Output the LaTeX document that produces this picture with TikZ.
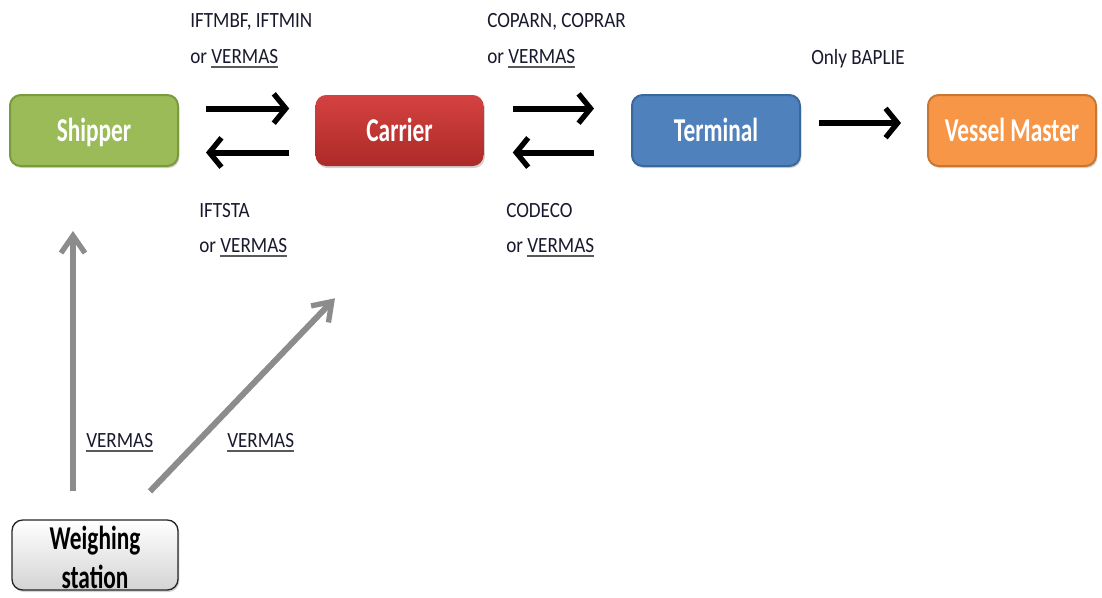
\documentclass[tikz,border=0pt]{standalone}
\usepackage{fontspec}
\setmainfont{Carlito}
\newfontfamily\labfont[FakeStretch=0.88]{Carlito}
\newfontfamily\boxfont[FakeStretch=0.7]{Carlito}
\usetikzlibrary{arrows.meta,shadows,calc}

\definecolor{txt}{RGB}{25,25,45}
\definecolor{shipfill}{RGB}{155,187,89}
\definecolor{shipline}{RGB}{122,154,62}
\definecolor{cartop}{RGB}{212,66,64}
\definecolor{carbot}{RGB}{172,42,40}
\definecolor{termfill}{RGB}{79,129,189}
\definecolor{termline}{RGB}{58,103,156}
\definecolor{vesfill}{RGB}{247,150,70}
\definecolor{vesline}{RGB}{200,118,50}
\definecolor{greyarrow}{RGB}{140,140,140}

% underlined message name with a heavier grey rule
\newsavebox\vmword
\newcommand{\vm}{\sbox\vmword{VERMAS}\rlap{\textcolor{black!65}{\rule[-3.6pt]{\wd\vmword}{1.6pt}}}\usebox\vmword}

\tikzset{
  party/.style={rounded corners=8pt, minimum width=126pt, minimum height=53.25pt,
    inner sep=0pt, text=white, text height=18pt, text depth=2.2pt,
    font=\boxfont\bfseries\fontsize{25}{30}\selectfont,
    drop shadow={shadow xshift=1pt, shadow yshift=-1.5pt, opacity=0.35}},
  msg/.style={anchor=base west, inner sep=0pt, text=txt,
    font=\labfont\fontsize{16.3}{20}\selectfont},
  blk/.style={line width=4.5pt, black,
    -{Straight Barb[length=9pt,width=22pt,line width=4pt]}},
  gry/.style={line width=4.5pt, greyarrow,
    -{Straight Barb[length=13pt,width=18pt,line width=4pt]}},
}

\begin{document}
\begin{tikzpicture}[x=0.75pt, y=-0.75pt]
\useasboundingbox (0,0) rectangle (1102,597);

% the four parties
\node[party, fill=shipfill, draw=shipline, line width=1.5pt] (shipper) at (94,130.5) {Shipper};
\node[party, top color=cartop, bottom color=carbot] (carrier) at (399.5,130.5) {Carrier};
\node[party, fill=termfill, draw=termline, line width=1.5pt] (terminal) at (716,130.5) {Terminal};
\node[party, fill=vesfill, draw=vesline, line width=1.5pt] (vessel) at (1012,130.5) {Vessel Master};

% weighing station
\node[rounded corners=8pt, minimum width=124.5pt, minimum height=52.5pt, inner sep=0pt,
  top color=white, bottom color=black!17, draw=black!85, line width=1pt,
  align=center, text=black, font=\boxfont\bfseries\fontsize{25}{31.5}\selectfont,
  drop shadow={shadow xshift=1pt, shadow yshift=-1.5pt, opacity=0.35}]
  (weigh) at (95,555) {\rule{0pt}{21pt}Weighing\\[-2pt]station};

% message exchanges
\draw[blk] ($(shipper.east)+(27,-22)$) -- ($(carrier.west)+(-26,-22)$);
\draw[blk] ($(carrier.west)+(-26,22)$) -- ($(shipper.east)+(27,22)$);
\draw[blk] ($(carrier.east)+(29,-22)$) -- ($(terminal.west)+(-37,-22)$);
\draw[blk] ($(terminal.west)+(-37,22)$) -- ($(carrier.east)+(29,22)$);
\draw[blk] ($(terminal.east)+(18,-7.5)$) -- ($(vessel.west)+(-26,-7.5)$);

% verified mass from the weighing station
\draw[gry] ($(weigh.north)+(-22,-28)$) -- ($(shipper.south)+(-21,64)$);
\draw[gry] ($(weigh.north)+(55,-28)$) -- ($(carrier.south)+(-64.5,132)$);

% message labels
\node[msg] (l1a) at (190,27) {IFTMBF, IFTMIN};
\node[msg] (l1b) at (190,63) {or \vm};
\node[msg] (l2a) at (487,27) {COPARN, COPRAR};
\node[msg] (l2b) at (487,63) {or \vm};
\node[msg] (l3) at (811,64) {Only BAPLIE};
\node[msg] (l4a) at (199,217) {IFTSTA};
\node[msg] (l4b) at (199,252) {or \vm};
\node[msg] (l5a) at (506,217) {CODECO};
\node[msg] (l5b) at (506,252) {or \vm};
\node[msg] (l6) at (86,447) {\vm};
\node[msg] (l7) at (227,447) {\vm};
\end{tikzpicture}
\end{document}
